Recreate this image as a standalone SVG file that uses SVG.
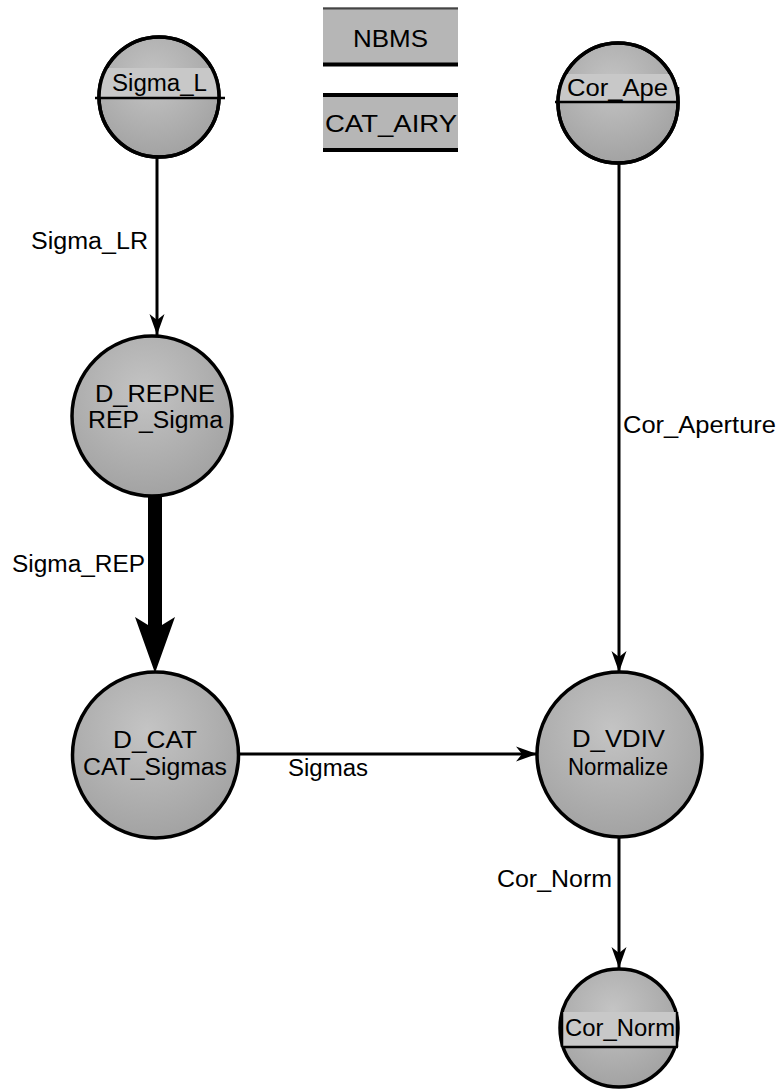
<svg xmlns="http://www.w3.org/2000/svg" width="780" height="1091" viewBox="0 0 780 1091">
<style>
  .node { fill: url(#g); stroke: #000; stroke-width: 3.5; }
  .lbox { fill: #c8c8c8; stroke: none; }
  .lline { stroke: #000; stroke-width: 2.5; fill: none; }
  .t { font-family: "Liberation Sans", Arial, sans-serif; font-size: 23px; fill: #000; text-anchor: middle; }
  .e { stroke: #000; stroke-width: 3; fill: none; }
  .thick { stroke: #000; stroke-width: 14; fill: none; }
  .box { fill: #b6b6b6; stroke: none; }
</style>
<defs>
  <radialGradient id="g" cx="0.45" cy="0.35" r="0.7">
    <stop offset="0" stop-color="#c4c4c4"/>
    <stop offset="1" stop-color="#a0a0a0"/>
  </radialGradient>
  <clipPath id="cSL"><circle cx="159" cy="97" r="60"/></clipPath>
  <clipPath id="cCA"><circle cx="618" cy="103" r="60"/></clipPath>
  <clipPath id="cCN"><circle cx="619" cy="1028" r="59"/></clipPath>
  <marker id="arr" viewBox="-22 -9 24 18" refX="0" refY="0" markerWidth="24" markerHeight="18" orient="auto" markerUnits="userSpaceOnUse">
    <path d="M0,0 L-21,-7.5 L-15,0 L-21,7.5 Z" fill="#000"/>
  </marker>
  <marker id="arrT" viewBox="-10 -22 60 44" refX="0" refY="0" markerWidth="60" markerHeight="44" orient="auto" markerUnits="userSpaceOnUse">
    <path d="M48,0 L-8,-20 L0,-7 L0,7 L-8,20 Z" fill="#000"/>
  </marker>
</defs>
<rect width="780" height="1091" fill="#fff"/>

<g id="connectors">
  <line class="e" x1="157" y1="158" x2="157" y2="335" marker-end="url(#arr)"/>
  <text class="t" x="89.5" y="249" textLength="117" lengthAdjust="spacingAndGlyphs">Sigma_LR</text>
  <line class="thick" x1="155" y1="497" x2="155" y2="625" marker-end="url(#arrT)"/>
  <text class="t" x="78.5" y="572" textLength="133" lengthAdjust="spacingAndGlyphs">Sigma_REP</text>
  <line class="e" x1="619" y1="163" x2="619" y2="672" marker-end="url(#arr)"/>
  <text class="t" x="699.5" y="433" textLength="153" lengthAdjust="spacingAndGlyphs">Cor_Aperture</text>
  <line class="e" x1="238" y1="754" x2="537" y2="754" marker-end="url(#arr)"/>
  <text class="t" x="328" y="776" textLength="80" lengthAdjust="spacingAndGlyphs">Sigmas</text>
  <line class="e" x1="619" y1="837" x2="619" y2="968" marker-end="url(#arr)"/>
  <text class="t" x="554.5" y="887" textLength="115" lengthAdjust="spacingAndGlyphs">Cor_Norm</text>
</g>

<g id="NBMS">
  <rect class="box" x="323" y="7" width="135" height="59"/>
  <line x1="323" y1="8.5" x2="458" y2="8.5" stroke="#444" stroke-width="2"/>
  <line x1="323" y1="64.5" x2="458" y2="64.5" stroke="#000" stroke-width="4"/>
  <text class="t" x="390.5" y="47" textLength="75" lengthAdjust="spacingAndGlyphs">NBMS</text>
</g>

<g id="CAT_AIRY">
  <rect class="box" x="323" y="93" width="135" height="59"/>
  <line x1="323" y1="95" x2="458" y2="95" stroke="#000" stroke-width="4"/>
  <line x1="323" y1="150" x2="458" y2="150" stroke="#000" stroke-width="4"/>
  <text class="t" x="391" y="132" textLength="132" lengthAdjust="spacingAndGlyphs">CAT_AIRY</text>
</g>

<g id="Sigma_L">
  <circle class="node" cx="159" cy="97" r="60"/>
  <rect class="lbox" x="98" y="68" width="122" height="30" clip-path="url(#cSL)"/>
  <circle cx="159" cy="97" r="60" fill="none" stroke="#000" stroke-width="3.5"/>
  <line class="lline" x1="95" y1="98" x2="225" y2="98"/>
  <text class="t" x="159.5" y="91" textLength="95" lengthAdjust="spacingAndGlyphs">Sigma_L</text>
</g>

<g id="Cor_Ape">
  <circle class="node" cx="618" cy="103" r="60"/>
  <rect class="lbox" x="557" y="74" width="122" height="28" clip-path="url(#cCA)"/>
  <circle cx="618" cy="103" r="60" fill="none" stroke="#000" stroke-width="3.5"/>
  <line class="lline" x1="555" y1="102" x2="679" y2="102"/>
  <line class="lline" x1="678" y1="87" x2="678" y2="103"/>
  <text class="t" x="617.5" y="96" textLength="101" lengthAdjust="spacingAndGlyphs">Cor_Ape</text>
</g>

<g id="D_REPNE">
  <circle class="node" cx="152" cy="416" r="80"/>
  <text class="t" x="155" y="402" textLength="120" lengthAdjust="spacingAndGlyphs">D_REPNE</text>
  <text class="t" x="155.5" y="428" textLength="135" lengthAdjust="spacingAndGlyphs">REP_Sigma</text>
</g>

<g id="D_CAT">
  <circle class="node" cx="155.5" cy="755" r="83"/>
  <text class="t" x="155" y="748" textLength="84" lengthAdjust="spacingAndGlyphs">D_CAT</text>
  <text class="t" x="155" y="775" textLength="144" lengthAdjust="spacingAndGlyphs">CAT_Sigmas</text>
</g>

<g id="D_VDIV">
  <circle class="node" cx="619.5" cy="754.5" r="82.5"/>
  <text class="t" x="618.5" y="747" textLength="93" lengthAdjust="spacingAndGlyphs">D_VDIV</text>
  <text class="t" x="618" y="775" textLength="100" lengthAdjust="spacingAndGlyphs">Normalize</text>
</g>

<g id="Cor_Norm_node">
  <circle class="node" cx="619" cy="1028" r="59"/>
  <rect class="lbox" x="562" y="1012" width="115" height="35"/>
  <line class="lline" x1="562" y1="1047" x2="678" y2="1047"/>
  <line class="lline" x1="562" y1="1012" x2="562" y2="1047"/>
  <line class="lline" x1="677" y1="1012" x2="677" y2="1047"/>
  <text class="t" x="620" y="1036" textLength="110" lengthAdjust="spacingAndGlyphs">Cor_Norm</text>
</g>
</svg>
